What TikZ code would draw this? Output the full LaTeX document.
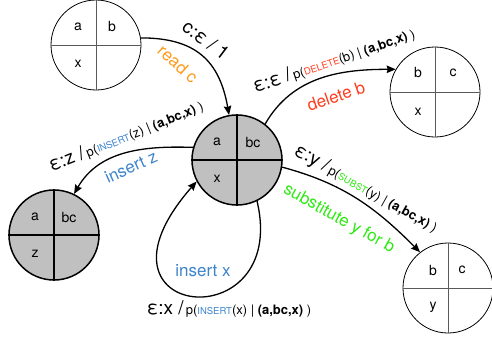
\documentclass[tikz,border=0pt]{standalone}
\usepackage{fontspec}
\setmainfont{TeX Gyre Heros}
\usetikzlibrary{arrows.meta,calc}
\definecolor{stategray}{HTML}{C0C0C0}
\definecolor{readorange}{HTML}{FF9A1A}
\definecolor{delred}{HTML}{FF3B1E}
\definecolor{insblue}{HTML}{3C83CC}
\definecolor{subgreen}{HTML}{2CEA10}
\newcommand{\symsz}{\fontsize{19}{21}\selectfont}
\newcommand{\opsz}{\fontsize{9.5}{11}\selectfont}

\begin{document}
\begin{tikzpicture}[
  x=1pt, y=-1pt,
  font=\fontsize{13}{15}\selectfont,
  state/.style={circle, draw, line width=0.8pt, minimum size=90pt, inner sep=0pt},
  cur/.style={state, fill=stategray, line width=1.5pt},
  cross/.style={draw=black!65, line width=1pt},
  curcross/.style={draw=black, line width=1.1pt},
  cell/.style={font=\fontsize{14}{16}\selectfont, inner sep=0pt},
  arr/.style={-{Stealth[length=9pt, width=7.5pt, inset=1pt]}, line width=1.3pt},
  elab/.style={inner sep=0pt},
  act/.style={font=\fontsize{17}{19}\selectfont, inner sep=0pt}
]
\useasboundingbox (0,0) rectangle (492,340);

% ---------- states ----------
\node[state] (tl) at (96,45) {};
\draw[cross] (tl.north) -- (tl.south) (tl.west) -- (tl.east);
\node[cell] (tl-a) at ($(tl)+(-18,-18)$) {a};
\node[cell] (tl-b) at ($(tl)+(16,-18)$) {b};
\node[cell] (tl-x) at ($(tl)+(-18,19)$) {x};

\node[cur] (c) at (237,160) {};
\draw[curcross] (c.north) -- (c.south) (c.west) -- (c.east);
\node[cell] (c-a) at ($(c)+(-20,-18)$) {a};
\node[cell] (c-bc) at ($(c)+(16,-18)$) {bc};
\node[cell] (c-x) at ($(c)+(-20,19)$) {x};

\node[cur] (lf) at (54,235) {};
\draw[curcross] (lf.north) -- (lf.south) (lf.west) -- (lf.east);
\node[cell] (lf-a) at ($(lf)+(-19,-18)$) {a};
\node[cell] (lf-bc) at ($(lf)+(15,-18)$) {bc};
\node[cell] (lf-z) at ($(lf)+(-19,19)$) {z};

\node[state] (tr) at (435,92) {};
\draw[cross] (tr.north) -- (tr.south) (tr.west) -- (tr.east);
\node[cell] (tr-b) at ($(tr)+(-17,-19)$) {b};
\node[cell] (tr-c) at ($(tr)+(18,-19)$) {c};
\node[cell] (tr-x) at ($(tr)+(-17,20)$) {x};

\node[state] (br) at (448,288) {};
\draw[cross] (br.north) -- (br.south) (br.west) -- (br.east);
\node[cell] (br-b) at ($(br)+(-15,-18)$) {b};
\node[cell] (br-c) at ($(br)+(14,-18)$) {c};
\node[cell] (br-y) at ($(br)+(-15,19)$) {y};

% ---------- transitions ----------
\draw[arr] (tl.9) to[out=0, in=100, looseness=1.2] (c.100);
\draw[arr] (c.52) to[out=60, in=180] (tr.150);
\draw[arr] (c.164) to[out=178, in=60] (lf.64);
\draw[arr] (c.-9) to[out=-15, in=135] (br.128);
\draw[arr] (c.-64) .. controls +(33,140) and +(-122,139) .. (c.-152);

% ---------- labels ----------
\node[elab, rotate=-37] (l-read) at (206,40) {\symsz c:ε / 1};
\node[act, text=readorange, rotate=-42] (l-readc) at (178,64) {read c};

\node[elab, rotate=19] (l-del) at (334,60)
  {{\symsz ε:ε /}\,p({\opsz\color{delred}DELETE}(b) | \textbf{(a,bc,x)} )};
\node[act, text=delred, rotate=19] (l-deleteb) at (336,96) {delete b};

\node[elab, rotate=22] (l-insz) at (126,136)
  {{\symsz ε:z /}\,p({\opsz\color{insblue}INSERT}(z) | \textbf{(a,bc,x)} )};
\node[act, text=insblue, rotate=24] (l-insertz) at (131,167) {insert z};

\node[elab, rotate=-29] (l-sub) at (366,189)
  {{\symsz ε:y /}\,p({\opsz\color{subgreen}SUBST}(y) | \textbf{(a,bc,x)} )};
\node[act, text=subgreen, rotate=-29] (l-substy) at (339,219) {substitute y for b};

\node[act, text=insblue] (l-insertx) at (203,271) {insert x};
\node[elab] (l-insx) at (229,309)
  {{\symsz ε:x /}\,p({\opsz\color{insblue}INSERT}(x) | \textbf{(a,bc,x)} )};

\end{tikzpicture}
\end{document}
